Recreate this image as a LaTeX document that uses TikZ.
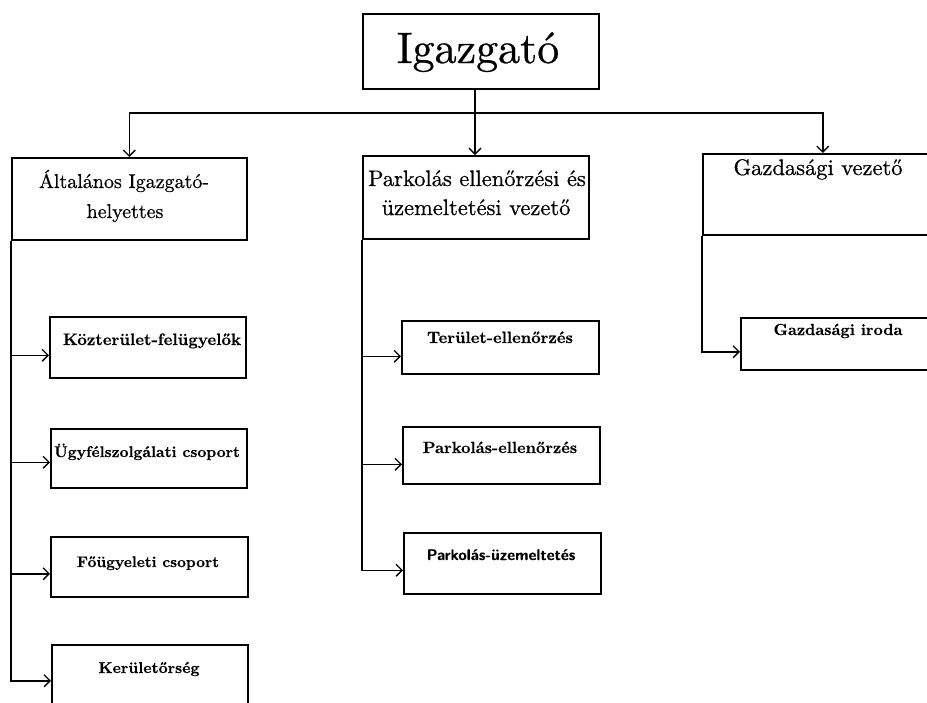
\documentclass[tikz,border=0pt]{standalone}
\usepackage{fontspec}
\usetikzlibrary{arrows.meta}
\newfontfamily\heavyrm{lmroman10-regular}[Extension=.otf,FakeBold=0.6]
\newfontfamily\heavybf{lmroman10-bold}[Extension=.otf,FakeBold=0.4]
\newfontfamily\heavysf{lmsans10-bold}[Extension=.otf,FakeBold=0.3]
\begin{document}
\begin{tikzpicture}[x=1pt,y=-1pt,
  box/.style={draw,line width=1.6pt,rectangle,inner sep=0pt,anchor=north west},
  conn/.style={line width=1.5pt},
  arr/.style={line width=1.5pt,-{Straight Barb[length=6pt,width=12pt,line width=1.3pt]}},
  ptext/.style={anchor=base,inner sep=0pt,font=\heavyrm\fontsize{20}{24}\selectfont},
  ctext/.style={anchor=base,inner sep=0pt,font=\heavybf\fontsize{16}{19}\selectfont}
]
\useasboundingbox (0,0) rectangle (927,702);
\fill[white] (0,0) rectangle (927,702);
\clip (0,0) rectangle (927,702);

% boxes
\node[box,minimum width=236pt,minimum height=75pt] (ig) at (362,13) {};
\node[box,minimum width=235pt,minimum height=82pt] (ah) at (11,157) {};
\node[box,minimum width=226pt,minimum height=83pt] (pv) at (362,155) {};
\node[box,minimum width=240pt,minimum height=81pt] (gv) at (702,153) {};

\node[box,minimum width=196pt,minimum height=61pt] (kf) at (49,316) {};
\node[box,minimum width=196pt,minimum height=59pt] (uf) at (50,428) {};
\node[box,minimum width=197pt,minimum height=60pt] (fo) at (50,536) {};
\node[box,minimum width=196pt,minimum height=70pt] (ke) at (51,644) {};

\node[box,minimum width=197pt,minimum height=53pt] (te) at (401,320) {};
\node[box,minimum width=197pt,minimum height=57pt] (pe) at (402,426) {};
\node[box,minimum width=197pt,minimum height=61pt] (pu) at (403,532) {};

\node[box,minimum width=200pt,minimum height=52pt] (gi) at (740,317) {};

% texts
\node[anchor=base,inner sep=0pt,font=\heavyrm\fontsize{44}{48}\selectfont] (igt) at (478,63) {Igazgató};
\node[ptext] (aht1) at (124,188) {Általános Igazgató-};
\node[ptext] (aht2) at (125,218) {helyettes};
\node[ptext,font=\heavyrm\fontsize{22.5}{27}\selectfont] (pvt1) at (477,186) {Parkolás ellenőrzési és};
\node[ptext,font=\heavyrm\fontsize{22.5}{27}\selectfont] (pvt2) at (476,215) {üzemeltetési vezető};
\node[ptext,font=\heavyrm\fontsize{22.5}{27}\selectfont] (gvt) at (818,175) {Gazdasági vezető};

\node[ctext,font=\heavybf\fontsize{16.6}{20}\selectfont] (kft) at (152,345) {Közterület-felügyelők};
\node[ctext,font=\heavybf\fontsize{15.5}{19}\selectfont] (uft) at (147,457) {Ügyfélszolgálati csoport};
\node[ctext,font=\heavybf\fontsize{15.3}{19}\selectfont] (fot) at (148,567) {Főügyeleti csoport};
\node[ctext,font=\heavybf\fontsize{15.7}{19}\selectfont] (ket) at (149,673) {Kerületőrség};

\node[ctext,font=\heavybf\fontsize{16.4}{20}\selectfont] (tet) at (500,343) {Terület-ellenőrzés};
\node[ctext,font=\heavybf\fontsize{16.2}{20}\selectfont] (pet) at (500,453) {Parkolás-ellenőrzés};
\node[ctext,font=\heavysf\fontsize{15.5}{19}\selectfont] (put) at (501,560) {Parkolás-üzemeltetés};
\node[ctext,font=\heavybf\fontsize{16}{19}\selectfont] (git) at (838,335) {Gazdasági iroda};

% top connectors
\coordinate (bus) at (475,113);
\draw[conn] (ig.south -| bus) -- (bus);
\draw[arr] (bus) -| (ah.north);
\draw[arr] (bus) -- (bus |- pv.north);
\draw[arr] (bus) -| (gv.north);

% left column
\draw[arr] (ah.south west) |- ([yshift=-8pt]kf.west);
\draw[arr] (ah.south west) |- ([yshift=-4pt]uf.west);
\draw[arr] (ah.south west) |- ([yshift=-7pt]fo.west);
\draw[arr] (ah.south west) |- ([yshift=-1pt]ke.west);

% middle column
\draw[arr] (pv.south west) |- ([yshift=-9pt]te.west);
\draw[arr] (pv.south west) |- ([yshift=-9pt]pe.west);
\draw[arr] (pv.south west) |- ([yshift=-7pt]pu.west);

% right column
\draw[arr] (gv.south west) |- ([yshift=-8pt]gi.west);
\end{tikzpicture}
\end{document}
